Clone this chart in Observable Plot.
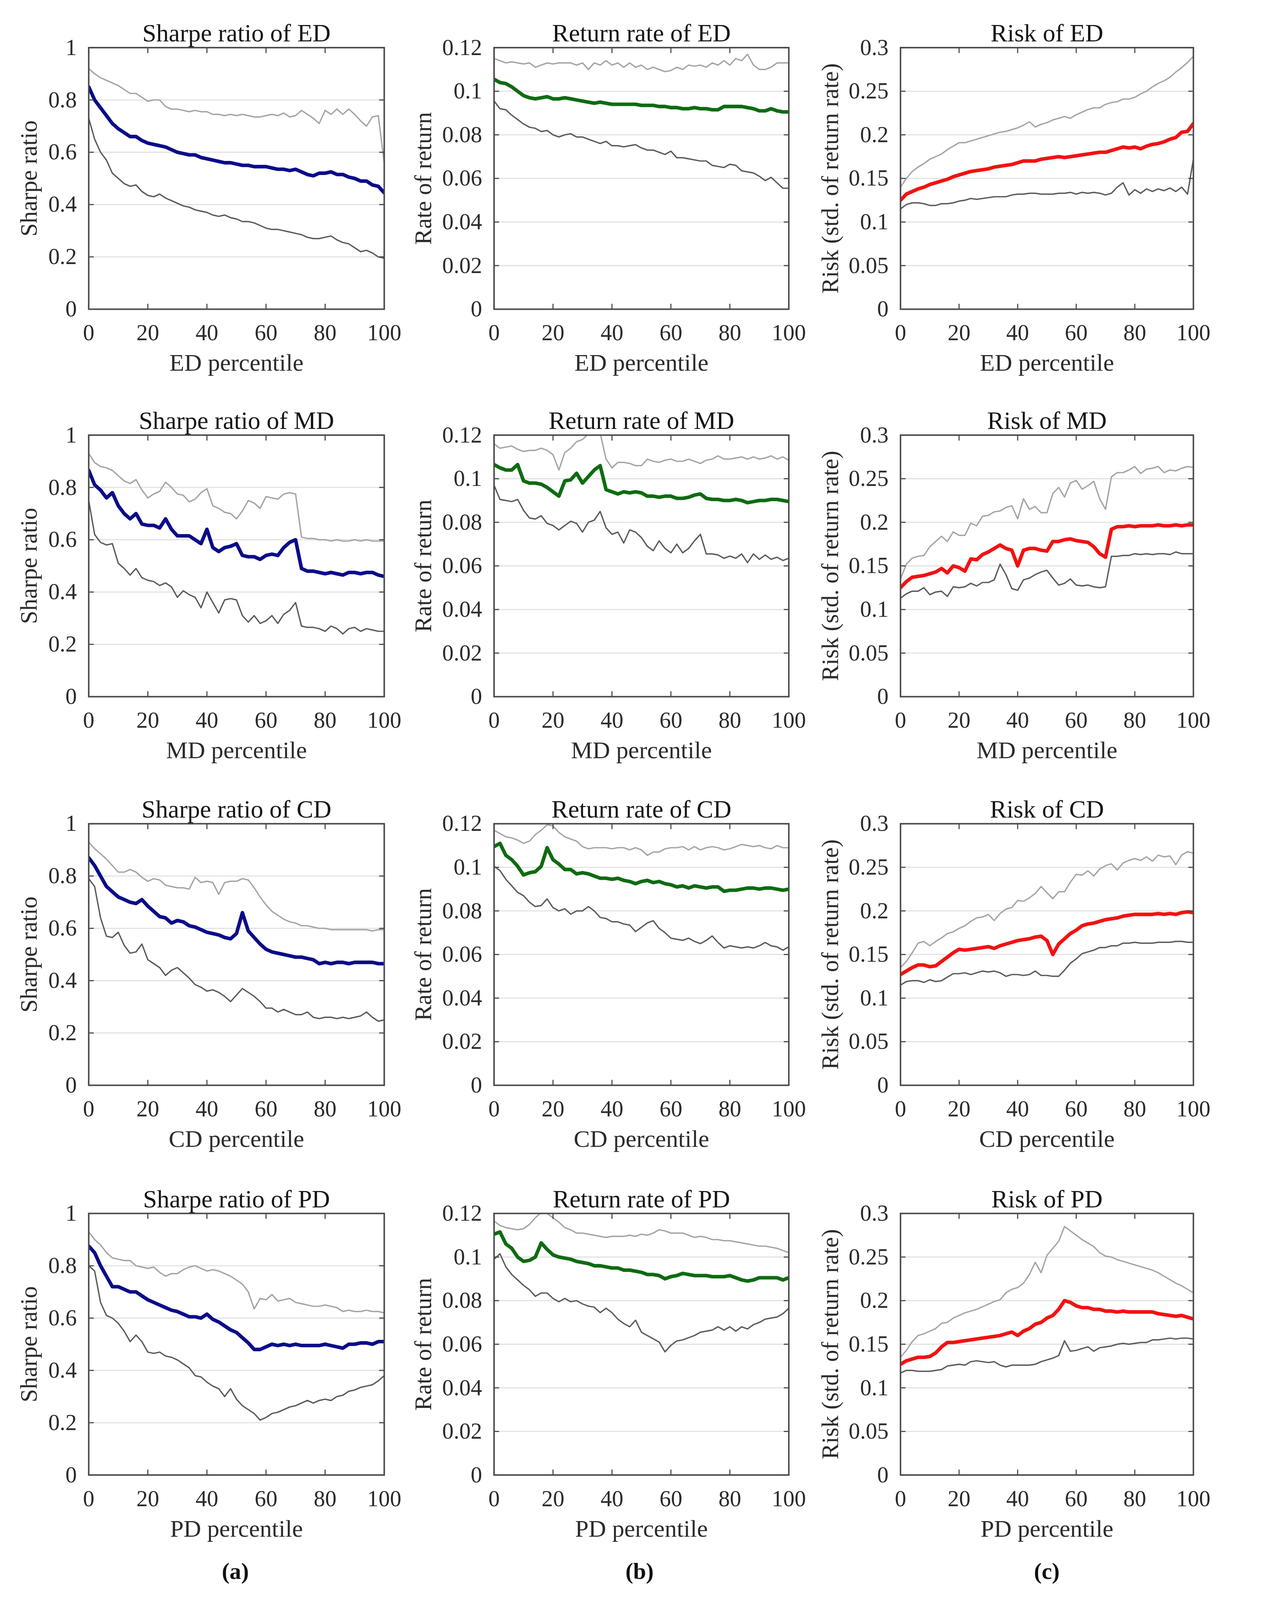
<!DOCTYPE html>
<html>
<head>
<meta charset="utf-8">
<script src="https://cdn.jsdelivr.net/npm/d3@7"></script>
<script src="https://cdn.jsdelivr.net/npm/@observablehq/plot@0.6"></script>
<style>
  html, body { margin: 0; padding: 0; background: #ffffff; overflow: hidden; }
  #page { position: relative; width: 3298px; height: 4282px; background: #ffffff; overflow: hidden; transform-origin: 0 0; }
  #page svg { position: absolute; }
  .sub { position: absolute; font-family: 'Liberation Serif', 'Times New Roman', serif; font-weight: bold; font-size: 62px; color: #111; transform: translate(-50%, -50%); }
</style>
</head>
<body>
<div id="page"></div>
<script>
// ---------- data ----------
const pct = [0,2,4,6,8,10,12,14,16,18,20,22,24,26,28,30,32,34,36,38,40,42,44,46,48,50,52,54,56,58,60,62,64,66,68,70,72,74,76,78,80,82,84,86,88,90,92,94,96,98,100];
const xTicks = [0,20,40,60,80,100];
const sharpeTicks = [0,0.2,0.4,0.6,0.8,1];
const returnTicks = [0,0.02,0.04,0.06,0.08,0.1,0.12];
const riskTicks = [0,0.05,0.1,0.15,0.2,0.25,0.3];
const measures = ["ED","MD","CD","PD"];
const subLabels = ["(a)","(b)","(c)"];

// ED
const edSharpeHi = [0.92,0.90,0.885,0.875,0.865,0.855,0.84,0.825,0.825,0.81,0.795,0.80,0.80,0.775,0.765,0.765,0.76,0.755,0.76,0.755,0.755,0.745,0.745,0.74,0.745,0.74,0.745,0.74,0.735,0.735,0.74,0.745,0.74,0.75,0.735,0.74,0.76,0.745,0.73,0.71,0.76,0.745,0.765,0.745,0.765,0.745,0.72,0.70,0.735,0.74,0.56];
const edSharpeMid = [0.85,0.80,0.77,0.74,0.71,0.69,0.675,0.66,0.66,0.645,0.635,0.63,0.625,0.62,0.61,0.60,0.595,0.59,0.59,0.58,0.575,0.57,0.565,0.56,0.56,0.555,0.55,0.55,0.545,0.545,0.545,0.54,0.535,0.535,0.53,0.535,0.525,0.515,0.51,0.52,0.52,0.525,0.515,0.515,0.505,0.50,0.49,0.49,0.475,0.47,0.445];
const edSharpeLo = [0.73,0.65,0.60,0.57,0.52,0.50,0.48,0.47,0.475,0.45,0.435,0.43,0.44,0.425,0.415,0.405,0.395,0.39,0.38,0.375,0.37,0.36,0.355,0.36,0.35,0.345,0.335,0.335,0.33,0.32,0.31,0.305,0.305,0.30,0.295,0.29,0.285,0.275,0.27,0.27,0.275,0.28,0.265,0.255,0.25,0.235,0.22,0.225,0.215,0.20,0.195];
const edReturnHi = [0.115,0.114,0.113,0.1135,0.113,0.1125,0.113,0.111,0.112,0.113,0.1125,0.113,0.113,0.113,0.112,0.113,0.110,0.113,0.112,0.114,0.112,0.113,0.111,0.113,0.111,0.112,0.110,0.111,0.110,0.109,0.1095,0.111,0.110,0.112,0.1115,0.112,0.111,0.113,0.112,0.114,0.112,0.115,0.114,0.117,0.112,0.110,0.110,0.111,0.113,0.113,0.113];
const edReturnMid = [0.1055,0.104,0.1035,0.102,0.100,0.098,0.097,0.0965,0.097,0.0975,0.0965,0.0965,0.097,0.0965,0.096,0.0955,0.095,0.0945,0.095,0.0945,0.094,0.094,0.094,0.094,0.094,0.0935,0.0935,0.0935,0.093,0.093,0.0925,0.0925,0.092,0.092,0.0925,0.092,0.092,0.0915,0.0915,0.093,0.093,0.093,0.093,0.0925,0.092,0.091,0.091,0.092,0.091,0.0905,0.0905];
const edReturnLo = [0.0955,0.092,0.0915,0.089,0.087,0.085,0.0835,0.083,0.0815,0.082,0.080,0.079,0.080,0.0805,0.079,0.079,0.078,0.077,0.076,0.077,0.075,0.075,0.0745,0.075,0.0755,0.074,0.073,0.073,0.072,0.071,0.0725,0.0695,0.0695,0.069,0.0685,0.068,0.068,0.066,0.0655,0.065,0.0665,0.066,0.0635,0.063,0.0625,0.061,0.059,0.0605,0.058,0.0555,0.0555];
const edRiskHi = [0.14,0.15,0.158,0.163,0.167,0.172,0.175,0.178,0.183,0.187,0.191,0.191,0.193,0.195,0.197,0.199,0.201,0.203,0.204,0.206,0.208,0.211,0.215,0.209,0.212,0.214,0.217,0.219,0.221,0.219,0.223,0.226,0.229,0.231,0.231,0.235,0.237,0.238,0.241,0.241,0.243,0.247,0.250,0.255,0.259,0.262,0.266,0.272,0.277,0.283,0.290];
const edRiskMid = [0.125,0.132,0.135,0.138,0.140,0.143,0.145,0.147,0.149,0.152,0.154,0.156,0.158,0.159,0.160,0.161,0.163,0.164,0.165,0.166,0.168,0.170,0.170,0.170,0.172,0.173,0.174,0.175,0.174,0.175,0.176,0.177,0.178,0.179,0.180,0.180,0.182,0.184,0.186,0.185,0.186,0.184,0.187,0.189,0.190,0.192,0.195,0.197,0.203,0.204,0.213];
const edRiskLo = [0.115,0.120,0.122,0.122,0.121,0.119,0.119,0.121,0.121,0.122,0.124,0.125,0.127,0.126,0.127,0.128,0.129,0.129,0.129,0.131,0.132,0.132,0.133,0.133,0.132,0.132,0.132,0.133,0.133,0.134,0.132,0.134,0.133,0.134,0.133,0.131,0.133,0.140,0.145,0.131,0.137,0.133,0.138,0.135,0.138,0.136,0.139,0.135,0.140,0.132,0.172];

// MD
const mdSharpeHi = [0.93,0.895,0.88,0.875,0.865,0.845,0.825,0.815,0.83,0.79,0.76,0.775,0.785,0.82,0.80,0.775,0.77,0.745,0.755,0.78,0.795,0.73,0.72,0.705,0.70,0.68,0.71,0.75,0.74,0.72,0.765,0.76,0.755,0.775,0.78,0.775,0.61,0.605,0.605,0.60,0.60,0.595,0.60,0.595,0.595,0.60,0.595,0.60,0.595,0.595,0.595];
const mdSharpeMid = [0.865,0.81,0.79,0.76,0.78,0.73,0.70,0.68,0.70,0.66,0.655,0.655,0.645,0.68,0.64,0.615,0.615,0.615,0.60,0.585,0.64,0.57,0.555,0.57,0.575,0.585,0.54,0.535,0.535,0.525,0.54,0.545,0.54,0.57,0.59,0.60,0.49,0.48,0.48,0.475,0.47,0.475,0.47,0.465,0.475,0.475,0.47,0.475,0.475,0.465,0.46];
const mdSharpeLo = [0.75,0.62,0.59,0.58,0.585,0.51,0.49,0.465,0.49,0.455,0.445,0.44,0.425,0.435,0.42,0.38,0.405,0.39,0.38,0.34,0.40,0.36,0.32,0.37,0.375,0.37,0.31,0.285,0.31,0.28,0.29,0.31,0.28,0.315,0.33,0.36,0.27,0.265,0.265,0.26,0.25,0.27,0.26,0.24,0.26,0.265,0.25,0.26,0.255,0.25,0.25];
const mdReturnHi = [0.116,0.114,0.1145,0.115,0.1135,0.1125,0.113,0.113,0.114,0.113,0.111,0.104,0.112,0.114,0.117,0.118,0.1205,0.122,0.121,0.109,0.105,0.1075,0.1075,0.107,0.106,0.106,0.109,0.108,0.1075,0.1085,0.109,0.108,0.108,0.109,0.108,0.107,0.1085,0.109,0.1105,0.109,0.109,0.1095,0.110,0.109,0.110,0.109,0.1095,0.1105,0.109,0.110,0.1085];
const mdReturnMid = [0.1065,0.105,0.104,0.104,0.1065,0.099,0.098,0.098,0.0975,0.096,0.094,0.092,0.099,0.0995,0.1025,0.098,0.101,0.104,0.106,0.095,0.094,0.093,0.094,0.0935,0.094,0.0935,0.092,0.092,0.0915,0.092,0.092,0.091,0.091,0.0915,0.0925,0.093,0.091,0.0905,0.0905,0.090,0.090,0.0905,0.090,0.089,0.0895,0.090,0.090,0.0905,0.0905,0.090,0.0895];
const mdReturnLo = [0.097,0.0905,0.090,0.0895,0.0905,0.0855,0.082,0.0815,0.083,0.0795,0.0785,0.0765,0.0785,0.0805,0.0795,0.0755,0.080,0.081,0.085,0.0775,0.0745,0.0755,0.0705,0.0765,0.0755,0.073,0.069,0.067,0.0715,0.068,0.066,0.070,0.066,0.068,0.0715,0.0745,0.0655,0.0655,0.065,0.0635,0.0645,0.0635,0.0655,0.0615,0.0655,0.063,0.065,0.063,0.064,0.0625,0.0635];
const mdRiskHi = [0.135,0.152,0.159,0.161,0.162,0.172,0.178,0.184,0.178,0.189,0.185,0.185,0.199,0.196,0.207,0.208,0.212,0.213,0.217,0.219,0.204,0.227,0.215,0.218,0.211,0.211,0.233,0.240,0.229,0.245,0.248,0.238,0.242,0.247,0.227,0.215,0.252,0.257,0.257,0.260,0.264,0.256,0.261,0.262,0.264,0.257,0.260,0.259,0.262,0.264,0.263];
const mdRiskMid = [0.125,0.132,0.137,0.138,0.139,0.141,0.143,0.147,0.142,0.150,0.148,0.144,0.158,0.157,0.163,0.166,0.170,0.174,0.170,0.168,0.150,0.168,0.170,0.170,0.168,0.167,0.178,0.178,0.180,0.181,0.179,0.178,0.177,0.172,0.164,0.160,0.192,0.195,0.195,0.196,0.195,0.196,0.196,0.196,0.197,0.196,0.196,0.197,0.196,0.197,0.197];
const mdRiskLo = [0.113,0.118,0.121,0.121,0.125,0.117,0.120,0.121,0.115,0.126,0.125,0.126,0.130,0.127,0.131,0.131,0.134,0.152,0.140,0.124,0.122,0.134,0.136,0.140,0.143,0.145,0.136,0.128,0.130,0.135,0.128,0.127,0.128,0.126,0.125,0.126,0.161,0.161,0.162,0.162,0.164,0.163,0.164,0.163,0.164,0.164,0.163,0.166,0.164,0.164,0.164];

// CD
const cdSharpeHi = [0.93,0.905,0.885,0.865,0.84,0.815,0.815,0.825,0.815,0.795,0.78,0.79,0.785,0.765,0.76,0.755,0.755,0.75,0.795,0.775,0.78,0.775,0.73,0.775,0.78,0.78,0.79,0.785,0.755,0.72,0.69,0.665,0.65,0.635,0.625,0.62,0.61,0.61,0.605,0.60,0.60,0.595,0.595,0.595,0.595,0.595,0.595,0.595,0.59,0.595,0.595];
const cdSharpeMid = [0.87,0.84,0.80,0.76,0.74,0.72,0.71,0.70,0.695,0.71,0.685,0.665,0.645,0.64,0.62,0.63,0.625,0.61,0.605,0.595,0.585,0.58,0.575,0.565,0.56,0.58,0.66,0.59,0.565,0.54,0.52,0.51,0.505,0.50,0.495,0.49,0.49,0.485,0.48,0.465,0.47,0.465,0.47,0.47,0.465,0.47,0.47,0.47,0.47,0.465,0.465];
const cdSharpeLo = [0.79,0.76,0.64,0.57,0.565,0.585,0.535,0.505,0.51,0.54,0.48,0.465,0.45,0.42,0.44,0.45,0.43,0.41,0.385,0.375,0.36,0.365,0.355,0.34,0.32,0.345,0.37,0.355,0.34,0.32,0.295,0.295,0.28,0.29,0.28,0.27,0.27,0.28,0.26,0.255,0.26,0.26,0.255,0.26,0.255,0.26,0.265,0.28,0.26,0.245,0.25];
const cdReturnHi = [0.117,0.1155,0.114,0.1135,0.1125,0.111,0.112,0.115,0.117,0.1195,0.119,0.116,0.114,0.113,0.112,0.1095,0.1085,0.109,0.109,0.109,0.1085,0.109,0.109,0.108,0.109,0.108,0.1055,0.107,0.107,0.1085,0.109,0.109,0.1095,0.108,0.1095,0.108,0.109,0.1095,0.109,0.108,0.1085,0.1095,0.1105,0.110,0.1095,0.110,0.109,0.1085,0.110,0.109,0.109];
const cdReturnMid = [0.1095,0.111,0.1055,0.1035,0.1005,0.0965,0.0975,0.098,0.1005,0.109,0.1035,0.1015,0.099,0.099,0.097,0.0975,0.097,0.096,0.095,0.095,0.0945,0.095,0.094,0.0935,0.0925,0.0935,0.094,0.093,0.0935,0.0925,0.092,0.091,0.0915,0.0905,0.0915,0.091,0.0905,0.091,0.091,0.089,0.0895,0.0895,0.090,0.0905,0.0905,0.090,0.0905,0.0905,0.090,0.0895,0.090];
const cdReturnLo = [0.1005,0.0985,0.0945,0.0915,0.0885,0.087,0.084,0.082,0.0825,0.0855,0.0815,0.080,0.081,0.0785,0.080,0.080,0.082,0.080,0.077,0.0765,0.075,0.075,0.074,0.0735,0.0705,0.0725,0.0745,0.0755,0.072,0.070,0.0675,0.067,0.0665,0.0675,0.066,0.065,0.0665,0.0685,0.0655,0.063,0.064,0.0635,0.063,0.0635,0.063,0.064,0.0655,0.064,0.0635,0.062,0.0635];
const cdRiskHi = [0.135,0.142,0.152,0.163,0.165,0.160,0.165,0.169,0.174,0.176,0.180,0.183,0.188,0.192,0.193,0.196,0.189,0.197,0.202,0.204,0.212,0.211,0.215,0.220,0.228,0.221,0.214,0.222,0.222,0.233,0.242,0.241,0.246,0.240,0.248,0.252,0.254,0.247,0.255,0.258,0.260,0.258,0.262,0.257,0.264,0.262,0.263,0.253,0.264,0.268,0.266];
const cdRiskMid = [0.127,0.131,0.135,0.138,0.138,0.136,0.137,0.142,0.147,0.152,0.156,0.155,0.156,0.157,0.158,0.159,0.157,0.160,0.162,0.164,0.166,0.167,0.168,0.170,0.171,0.166,0.150,0.162,0.168,0.174,0.178,0.183,0.185,0.186,0.188,0.190,0.191,0.192,0.194,0.195,0.196,0.196,0.196,0.196,0.197,0.196,0.197,0.196,0.198,0.199,0.198];
const cdRiskLo = [0.115,0.119,0.120,0.120,0.118,0.121,0.119,0.120,0.124,0.128,0.128,0.129,0.127,0.129,0.131,0.130,0.131,0.129,0.125,0.127,0.127,0.126,0.127,0.131,0.126,0.126,0.125,0.125,0.132,0.140,0.145,0.151,0.153,0.155,0.158,0.158,0.160,0.160,0.163,0.163,0.164,0.163,0.163,0.163,0.164,0.164,0.164,0.165,0.165,0.164,0.164];

// PD
const pdSharpeHi = [0.93,0.90,0.88,0.85,0.83,0.825,0.82,0.82,0.80,0.795,0.79,0.795,0.775,0.76,0.77,0.77,0.785,0.795,0.80,0.79,0.78,0.785,0.78,0.77,0.76,0.745,0.73,0.70,0.635,0.675,0.67,0.69,0.665,0.67,0.675,0.66,0.655,0.65,0.645,0.645,0.65,0.645,0.64,0.625,0.63,0.625,0.625,0.63,0.625,0.625,0.62];
const pdSharpeMid = [0.875,0.85,0.80,0.76,0.72,0.72,0.71,0.70,0.70,0.685,0.67,0.66,0.65,0.64,0.63,0.625,0.615,0.605,0.605,0.60,0.615,0.595,0.585,0.57,0.555,0.545,0.525,0.505,0.48,0.48,0.49,0.50,0.495,0.50,0.495,0.50,0.495,0.495,0.495,0.495,0.50,0.495,0.49,0.485,0.50,0.50,0.505,0.505,0.50,0.51,0.51];
const pdSharpeLo = [0.80,0.78,0.66,0.61,0.60,0.58,0.55,0.51,0.535,0.51,0.47,0.465,0.47,0.455,0.45,0.44,0.425,0.41,0.38,0.375,0.355,0.34,0.33,0.30,0.33,0.29,0.265,0.25,0.235,0.21,0.22,0.235,0.24,0.25,0.26,0.265,0.275,0.285,0.275,0.285,0.29,0.285,0.30,0.305,0.32,0.325,0.335,0.34,0.345,0.36,0.38];
const pdReturnHi = [0.1165,0.1145,0.1135,0.113,0.1125,0.113,0.115,0.118,0.1205,0.120,0.118,0.116,0.1135,0.1125,0.111,0.111,0.1105,0.110,0.1095,0.109,0.1095,0.1095,0.1095,0.110,0.1095,0.1105,0.110,0.111,0.1125,0.112,0.111,0.111,0.111,0.110,0.109,0.1095,0.109,0.108,0.108,0.1075,0.1075,0.107,0.1065,0.106,0.1055,0.105,0.105,0.1045,0.104,0.103,0.102];
const pdReturnMid = [0.1105,0.1115,0.106,0.104,0.100,0.098,0.0985,0.100,0.1065,0.1035,0.101,0.100,0.0995,0.099,0.098,0.0975,0.097,0.096,0.096,0.0955,0.095,0.095,0.094,0.094,0.0935,0.093,0.092,0.092,0.0915,0.090,0.091,0.0915,0.0925,0.092,0.0915,0.0915,0.0915,0.091,0.091,0.091,0.0915,0.0905,0.0895,0.089,0.0895,0.0905,0.0905,0.0905,0.0905,0.0895,0.0905];
const pdReturnLo = [0.099,0.1015,0.0955,0.092,0.0895,0.087,0.085,0.082,0.0835,0.0835,0.081,0.0795,0.081,0.0795,0.080,0.0785,0.0775,0.077,0.0745,0.0765,0.0745,0.0715,0.0695,0.068,0.071,0.0655,0.064,0.0625,0.061,0.0565,0.0595,0.0615,0.062,0.063,0.064,0.0655,0.066,0.0665,0.068,0.0665,0.068,0.066,0.068,0.067,0.069,0.070,0.0715,0.072,0.0725,0.074,0.0765];
const pdRiskHi = [0.135,0.143,0.153,0.160,0.162,0.165,0.168,0.174,0.175,0.180,0.183,0.186,0.188,0.190,0.193,0.196,0.199,0.201,0.209,0.213,0.215,0.220,0.230,0.244,0.232,0.252,0.260,0.268,0.285,0.280,0.275,0.270,0.266,0.262,0.255,0.251,0.250,0.247,0.245,0.243,0.241,0.239,0.237,0.235,0.232,0.228,0.224,0.220,0.217,0.213,0.209];
const pdRiskMid = [0.127,0.131,0.133,0.135,0.135,0.136,0.140,0.147,0.152,0.152,0.153,0.154,0.155,0.156,0.157,0.158,0.159,0.160,0.162,0.164,0.160,0.165,0.168,0.173,0.175,0.180,0.183,0.190,0.200,0.198,0.194,0.192,0.192,0.190,0.190,0.188,0.188,0.187,0.188,0.187,0.187,0.187,0.187,0.187,0.185,0.184,0.183,0.182,0.183,0.181,0.179];
const pdRiskLo = [0.117,0.120,0.120,0.119,0.119,0.119,0.120,0.121,0.125,0.126,0.127,0.126,0.130,0.131,0.130,0.129,0.130,0.126,0.124,0.126,0.126,0.126,0.126,0.127,0.130,0.132,0.134,0.137,0.154,0.142,0.143,0.145,0.147,0.142,0.146,0.147,0.148,0.150,0.151,0.150,0.151,0.152,0.152,0.155,0.155,0.156,0.157,0.156,0.157,0.157,0.156];

// ---------- panel definitions (built from the arrays above) ----------
const series = {
  ED: [[edSharpeHi, edSharpeMid, edSharpeLo], [edReturnHi, edReturnMid, edReturnLo], [edRiskHi, edRiskMid, edRiskLo]],
  MD: [[mdSharpeHi, mdSharpeMid, mdSharpeLo], [mdReturnHi, mdReturnMid, mdReturnLo], [mdRiskHi, mdRiskMid, mdRiskLo]],
  CD: [[cdSharpeHi, cdSharpeMid, cdSharpeLo], [cdReturnHi, cdReturnMid, cdReturnLo], [cdRiskHi, cdRiskMid, cdRiskLo]],
  PD: [[pdSharpeHi, pdSharpeMid, pdSharpeLo], [pdReturnHi, pdReturnMid, pdReturnLo], [pdRiskHi, pdRiskMid, pdRiskLo]]
};
const columns = [
  {title: m => `Sharpe ratio of ${m}`, ylabel: "Sharpe ratio", domain: [0, 1], ticks: sharpeTicks, color: "#0b0b8a"},
  {title: m => `Return rate of ${m}`, ylabel: "Rate of return", domain: [0, 0.12], ticks: returnTicks, color: "#0f6b12"},
  {title: m => `Risk of ${m}`, ylabel: "Risk (std. of return rate)", domain: [0, 0.3], ticks: riskTicks, color: "#f21212"}
];

// ---------- layout (pixels) ----------
const frameLeft = [237, 1322, 2410];
const frameWidth = [791, 789, 784];
const frameTop = [127, 1164, 2204, 3247];
const frameHeight = 700;
const yLabelOffset = [160, 189, 188];
const M = {l: 260, r: 90, t: 140, b: 210};
const FONT = "'Liberation Serif', 'Times New Roman', Times, serif";
const fmt = d3.format("~g");

const page = document.getElementById("page");

measures.forEach((m, r) => {
  columns.forEach((c, ci) => {
    const [hi, mid, lo] = series[m][ci];
    const svg = Plot.plot({
      width: M.l + frameWidth[ci] + M.r,
      height: M.t + frameHeight + M.b,
      marginLeft: M.l, marginRight: M.r, marginTop: M.t, marginBottom: M.b,
      style: {fontFamily: FONT, background: "transparent", color: "#2b2b2b", overflow: "visible"},
      x: {domain: [0, 100]},
      y: {domain: c.domain},
      marks: [
        Plot.gridY(c.ticks, {stroke: "#e2e2e2", strokeOpacity: 1, strokeWidth: 3}),
        Plot.line(pct, {x: d => d, y: hi, stroke: "#a4a4a4", strokeWidth: 3.6, strokeLinejoin: "round", clip: true}),
        Plot.line(pct, {x: d => d, y: lo, stroke: "#5a5a5a", strokeWidth: 3.6, strokeLinejoin: "round", clip: true}),
        Plot.line(pct, {x: d => d, y: mid, stroke: c.color, strokeWidth: 9.5, strokeLinejoin: "round", clip: true}),
        Plot.frame({stroke: "#4a4a4a", strokeWidth: 4}),
        Plot.axisX(xTicks, {anchor: "bottom", tickSize: -14, tickPadding: 54, fontSize: 61, label: null, stroke: "#4a4a4a", strokeWidth: 3, tickFormat: fmt}),
        Plot.axisX(xTicks, {anchor: "top", tickSize: -14, label: null, stroke: "#4a4a4a", strokeWidth: 3, tickFormat: () => ""}),
        Plot.axisY(c.ticks, {anchor: "left", tickSize: -14, tickPadding: 46, fontSize: 61, label: null, stroke: "#4a4a4a", strokeWidth: 3, tickFormat: fmt}),
        Plot.axisY(c.ticks, {anchor: "right", tickSize: -14, label: null, stroke: "#4a4a4a", strokeWidth: 3, tickFormat: () => ""}),
        Plot.text([c.title(m)], {text: d => d, frameAnchor: "top", dy: -38, fontSize: 67, lineAnchor: "middle", textAnchor: "middle", fill: "#151515"}),
        Plot.text([`${m} percentile`], {text: d => d, frameAnchor: "bottom", dy: 144, fontSize: 65, lineAnchor: "middle", textAnchor: "middle", fill: "#2b2b2b"}),
        Plot.text([c.ylabel], {text: d => d, frameAnchor: "left", dx: -yLabelOffset[ci], rotate: -90, fontSize: 64, lineAnchor: "middle", textAnchor: "middle", fill: "#2b2b2b"})
      ]
    });
    svg.style.left = (frameLeft[ci] - M.l) + "px";
    svg.style.top = (frameTop[r] - M.t) + "px";
    svg.style.maxWidth = "none";
    page.appendChild(svg);
  });
});

const subX = [630, 1712, 2802];
subLabels.forEach((s, i) => {
  const d = document.createElement("div");
  d.className = "sub";
  d.textContent = s;
  d.style.left = subX[i] + "px";
  d.style.top = "4205px";
  page.appendChild(d);
});

// fit the whole figure inside the visible window
function fit() {
  const s = Math.min(1, window.innerWidth / 3298, window.innerHeight / 4282);
  page.style.transform = `scale(${s})`;
}
fit();
window.addEventListener("resize", fit);
</script>
</body>
</html>
